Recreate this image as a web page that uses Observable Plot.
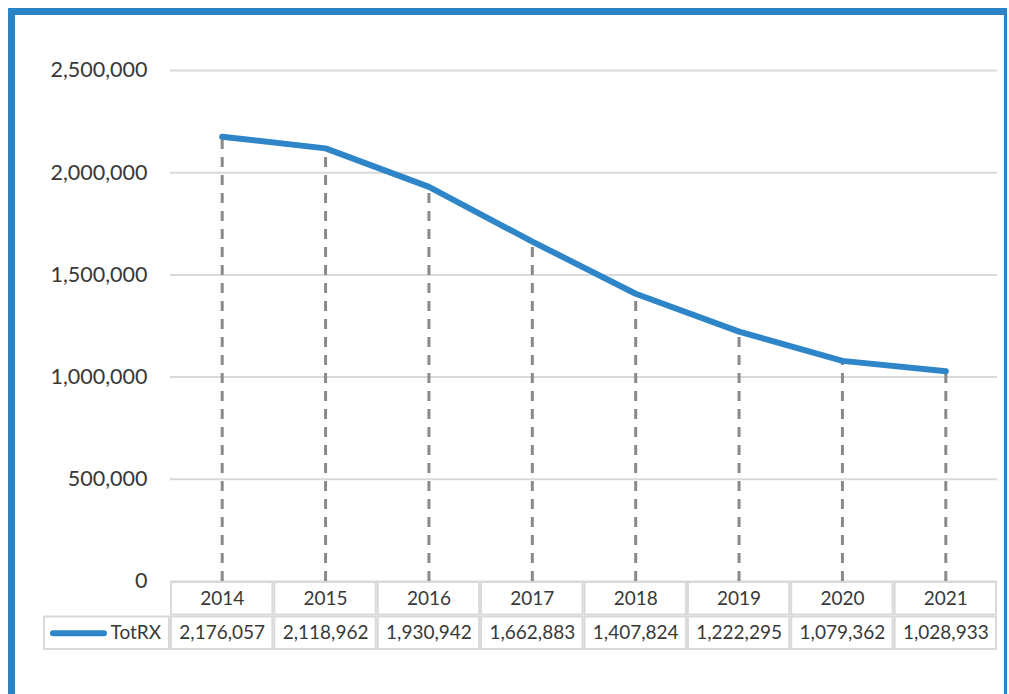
<!DOCTYPE html>
<html>
<head>
<meta charset="utf-8">
<script src="https://cdn.jsdelivr.net/npm/d3@7"></script>
<script src="https://cdn.jsdelivr.net/npm/@observablehq/plot@0.6"></script>
<style>
  html, body { margin: 0; padding: 0; background: #fff; overflow: hidden; }
  #page { position: relative; width: 1009px; height: 694px; overflow: hidden; background: #fff; font-family: Lato, sans-serif; }
  #frame { position: absolute; left: 8px; top: 8px; width: 989px; height: 679px; border-style: solid; border-color: #2a83c7; border-width: 7px 3px 3px 7px; }
  #chart { position: absolute; left: 0; top: 0; }
  #table { position: absolute; left: 0; top: 581px; }
</style>
</head>
<body>
<div id="page">
  <div id="frame"></div>
  <div id="chart"></div>
  <div id="table"></div>
</div>
<script>
const years = ["2014", "2015", "2016", "2017", "2018", "2019", "2020", "2021"];
const totRx = [2176057, 2118962, 1930942, 1662883, 1407824, 1222295, 1079362, 1028933];
const seriesName = "TotRX";
const headerRow = "Year";
const yTicks = [0, 500000, 1000000, 1500000, 2000000, 2500000];

const data = years.map((year, i) => ({year, value: totRx[i]}));
const fmt = d3.format(",");
const blue = "#2e86c8";
const textColor = "#383838";

const chart = Plot.plot({
  width: 1009,
  height: 600,
  marginLeft: 170,
  marginRight: 12,
  marginTop: 70,
  marginBottom: 19,
  style: {fontFamily: "Lato, sans-serif", fontSize: "21.5px", color: textColor, background: "transparent", overflow: "visible"},
  x: {type: "band", domain: years, padding: 0, round: false, axis: null},
  y: {domain: [0, 2500000], axis: null},
  marks: [
    Plot.gridY(yTicks, {stroke: "#d9d9d9", strokeWidth: 2, strokeOpacity: 1}),
    Plot.axisY(yTicks, {tickSize: 0, tickPadding: 23, tickFormat: fmt, fill: textColor, fontSize: 21.5, label: null}),
    Plot.ruleX(data, {x: "year", y1: 0, y2: "value", stroke: "#8a8a8a", strokeWidth: 3, strokeDasharray: "10,8"}),
    Plot.line(data, {x: "year", y: "value", stroke: blue, strokeWidth: 6, strokeLinecap: "round", strokeLinejoin: "round"})
  ]
});
document.getElementById("chart").append(chart);

const cellStyle = {fill: "#fff", stroke: "#d9d9d9", strokeWidth: 2, inset: 1};
const table = Plot.plot({
  width: 1009,
  height: 72,
  marginLeft: 43,
  marginRight: 12,
  marginTop: 0,
  marginBottom: 3,
  style: {fontFamily: "Lato, sans-serif", fontSize: "19px", color: textColor, background: "transparent", overflow: "visible"},
  x: {type: "band", domain: years, padding: 0, round: false, range: [170, 997], axis: null},
  y: {type: "band", domain: [headerRow, seriesName], padding: 0, round: false, axis: null},
  marks: [
    Plot.cell([seriesName], {y: d => d, ...cellStyle, insetRight: 828}),
    Plot.cell(years, {x: d => d, y: () => headerRow, ...cellStyle}),
    Plot.cell(data, {x: "year", y: () => seriesName, ...cellStyle}),
    Plot.text(years, {x: d => d, y: () => headerRow, text: d => d, fill: textColor, fontSize: 19}),
    Plot.text(data, {x: "year", y: () => seriesName, text: d => fmt(d.value), fill: textColor, fontSize: 19}),
    Plot.ruleY([seriesName], {y: d => d, insetLeft: 10, insetRight: 893, stroke: blue, strokeWidth: 6, strokeLinecap: "round"}),
    Plot.text([seriesName], {y: d => d, text: d => d, frameAnchor: "left", dx: 67, textAnchor: "start", fill: textColor, fontSize: 19})
  ]
});
document.getElementById("table").append(table);
</script>
</body>
</html>
